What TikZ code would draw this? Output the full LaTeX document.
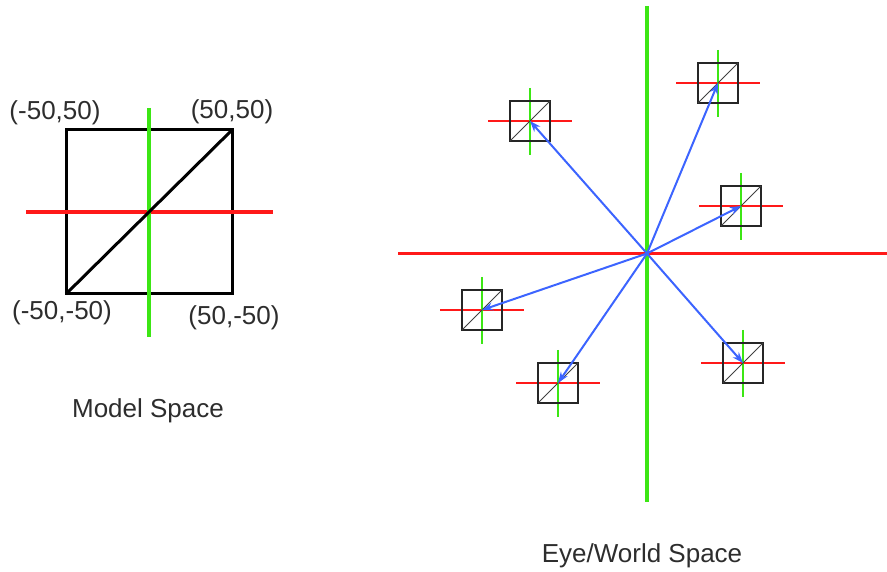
\documentclass[tikz,border=0pt]{standalone}
\usepackage{fontspec}
\setmainfont{Liberation Sans}
\usetikzlibrary{arrows.meta}
\definecolor{axred}{RGB}{255,25,25}
\definecolor{axgreen}{RGB}{60,230,20}
\definecolor{vecblue}{RGB}{60,100,255}
\definecolor{txt}{RGB}{45,45,45}
\begin{document}
\begin{tikzpicture}[x=1pt,y=-1pt,
  bigred/.style={draw=axred,line width=3.2pt},
  biggreen/.style={draw=axgreen,line width=3.2pt},
  smallred/.style={draw=axred,line width=1.2pt},
  smallgreen/.style={draw=axgreen,line width=1.2pt},
  modelsq/.style={draw=black,line width=3pt,minimum width=166pt,minimum height=164pt,inner sep=0pt,outer sep=0pt},
  smallsq/.style={draw=black!85,line width=1.6pt,minimum size=40pt,inner sep=0pt,outer sep=0pt},
  diag/.style={draw=black!75,line width=1pt},
  vec/.style={draw=vecblue,line width=2pt,-{Stealth[length=11pt,width=8pt]}},
  coordlbl/.style={text=txt,font=\fontsize{26}{30}\selectfont,inner sep=0pt},
  titlelbl/.style={text=txt,font=\fontsize{26}{30}\selectfont,inner sep=0pt}]
\useasboundingbox (0,0) rectangle (887,572);
% ---- Model space ----
\coordinate (mo) at (149,212);
\coordinate (mrl) at (26,212);
\coordinate (mrr) at (273,212);
\coordinate (mgt) at (149,108);
\coordinate (mgb) at (149,337);
\node[modelsq] (msq) at (mo) {};
\draw[bigred] (mrl) -- (mrr);
\draw[biggreen] (mgt) -- (mgb);
\draw[black,line width=3pt] (msq.south west) -- (msq.north east);
\node[coordlbl] (l1) at (55,113) {(-50,50)};
\node[coordlbl] (l2) at (232,112) {(50,50)};
\node[coordlbl] (l3) at (62,313) {(-50,-50)};
\node[coordlbl] (l4) at (234,318) {(50,-50)};
\node[titlelbl] (mt) at (148,411) {Model Space};
% ---- Eye/World space ----
\coordinate (c) at (647,253.5);
\coordinate (wrl) at (398,253.5);
\coordinate (wrr) at (887,253.5);
\coordinate (wgt) at (647,6);
\coordinate (wgb) at (647,502);
\draw[bigred] (wrl) -- (wrr);
\draw[biggreen] (wgt) -- (wgb);
\foreach \n/\x/\y in {s1/530/121, s2/718/83, s3/741/206, s4/482/310, s5/558/383, s6/743/363}{
  \coordinate (\n-rl) at (\x-42,\y);
  \coordinate (\n-rr) at (\x+42,\y);
  \coordinate (\n-gt) at (\x,\y-33);
  \coordinate (\n-gb) at (\x,\y+34);
  \draw[smallred] (\n-rl) -- (\n-rr);
  \draw[smallgreen] (\n-gt) -- (\n-gb);
  \node[smallsq] (\n) at (\x,\y) {};
  \draw[diag] (\n.south west) -- (\n.north east);
  \draw[vec] (c) -- (\n.center);
}
\node[titlelbl] (wt) at (642,556) {Eye/World Space};
\end{tikzpicture}
\end{document}
